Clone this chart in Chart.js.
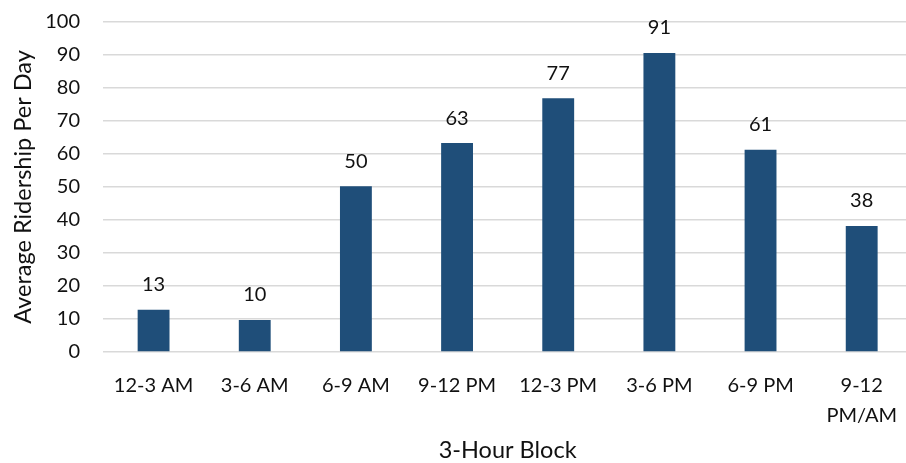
<!DOCTYPE html>
<html>
<head>
<meta charset="utf-8">
<script src="https://cdn.jsdelivr.net/npm/chart.js@4.4.1/dist/chart.umd.min.js"></script>
<style>
  html, body { margin: 0; padding: 0; background: #fff; overflow: hidden; }
  #wrap { position: relative; width: 916px; height: 463px; }
</style>
</head>
<body>
<div id="wrap"><canvas id="c"></canvas></div>
<script>
const categories = ['12-3 AM', '3-6 AM', '6-9 AM', '9-12 PM', '12-3 PM', '3-6 PM', '6-9 PM', ['9-12', 'PM/AM']];
const ridership = [12.8, 9.7, 50.2, 63.3, 76.9, 90.6, 61.3, 38.2];
const yTicks = [0, 10, 20, 30, 40, 50, 60, 70, 80, 90, 100];

const FONT = 'Lato, "Open Sans", sans-serif';
const TEXT = '#111111';

const labelPlugin = {
  id: 'barLabels',
  afterDatasetsDraw(chart) {
    const ctx = chart.ctx;
    const meta = chart.getDatasetMeta(0);
    ctx.save();
    ctx.font = '20px ' + FONT;
    ctx.fillStyle = TEXT;
    ctx.textAlign = 'center';
    ctx.textBaseline = 'middle';
    meta.data.forEach((bar, i) => {
      ctx.fillText(String(Math.round(ridership[i])), bar.x, bar.y - 25);
    });
    ctx.restore();
  }
};

new Chart(document.getElementById('c'), {
  type: 'bar',
  data: {
    labels: categories,
    datasets: [{
      data: ridership,
      backgroundColor: '#1F4E79',
      borderWidth: 0,
      barPercentage: 0.315,
      categoryPercentage: 1.0
    }]
  },
  options: {
    responsive: true,
    maintainAspectRatio: false,
    animation: false,
    layout: { padding: { top: 0, right: 0, bottom: 0, left: 0 } },
    plugins: { legend: { display: false }, tooltip: { enabled: false } },
    scales: {
      x: {
        grid: { display: false, drawTicks: false },
        border: { display: false },
        ticks: { color: TEXT, font: { family: FONT, size: 20, lineHeight: 1.5 }, padding: 19, maxRotation: 0, autoSkip: false },
        title: { display: true, text: '3-Hour Block', color: TEXT, font: { family: FONT, size: 23.5, lineHeight: 1.06 }, padding: { top: 10, bottom: 0 } },
        afterFit(scale) { scale.height = 111; }
      },
      y: {
        min: 0, max: 100,
        afterBuildTicks(scale) { scale.ticks = yTicks.map(v => ({ value: v })); },
        grid: { color: '#d9d9d9', lineWidth: 1.5, drawTicks: false },
        border: { display: false },
        ticks: { color: TEXT, font: { family: FONT, size: 20 }, padding: 23 },
        title: { display: true, text: 'Average Ridership Per Day', color: TEXT, font: { family: FONT, size: 23.5, lineHeight: 1.96 }, padding: { top: 0, bottom: 0 } },
        afterFit(scale) { scale.width = 103; scale.paddingTop = 22; scale.paddingBottom = 0; }
      }
    }
  },
  plugins: [labelPlugin]
});
</script>
</body>
</html>
